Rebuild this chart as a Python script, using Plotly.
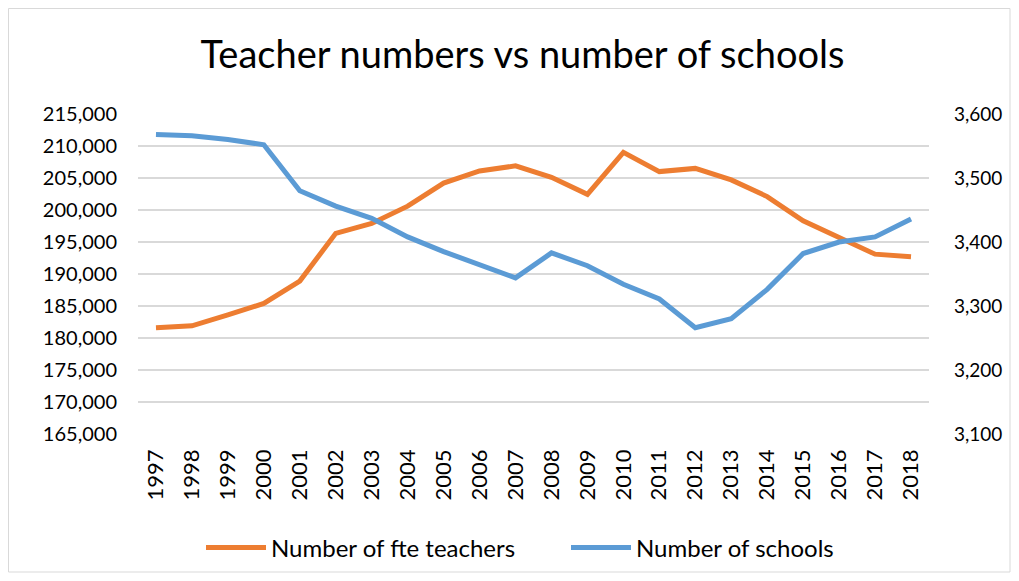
import plotly.graph_objects as go

years = [str(y) for y in range(1997, 2019)]
teachers = [181600, 181900, 183600, 185400, 188900, 196350, 197900, 200600, 204200, 206100, 206900,
            205100, 202450, 209000, 206000, 206500, 204700, 202100, 198300, 195600, 193100, 192700]
schools = [3568, 3566, 3560, 3552, 3480, 3456, 3437, 3408, 3385, 3365, 3344,
           3383, 3363, 3334, 3311, 3266, 3280, 3326, 3382, 3400, 3408, 3436]

left_ticks = list(range(165000, 215001, 5000))
right_ticks = list(range(3100, 3601, 100))

FONT = "Lato"
ORANGE = "#ED7D31"
BLUE = "#5B9BD5"

W, H = 1003, 565
L, T, PW, PH = 130, 106, 791, 320

fig = go.Figure()
fig.add_trace(go.Scatter(x=years, y=teachers, name="Number of fte teachers", mode="lines",
                         line=dict(color=ORANGE, width=5), yaxis="y"))
fig.add_trace(go.Scatter(x=years, y=schools, name="Number of schools", mode="lines",
                         line=dict(color=BLUE, width=5), yaxis="y2"))

fig.update_layout(
    width=W, height=H,
    margin=dict(l=L, r=W - L - PW, t=T, b=H - T - PH, autoexpand=False),
    paper_bgcolor="white", plot_bgcolor="white",
    font=dict(family=FONT, size=20, color="black"),
    title=dict(text="Teacher numbers vs number of schools", x=514.5 / W, xanchor="center",
               y=1 - 46.5 / H, yanchor="middle", font=dict(family=FONT, size=38, color="black")),
    xaxis=dict(type="category", range=[-0.5, 21.5], tickangle=-90, showgrid=False,
               showline=False, ticks="", ticklabelstandoff=10, tickfont=dict(size=22, color="black")),
    yaxis=dict(range=[165000, 215000], tickvals=left_ticks, tickformat=",",
               showgrid=True, gridcolor="#D9D9D9", gridwidth=1.5, zeroline=False,
               showline=False, ticks="", ticklabelstandoff=20, tickfont=dict(size=20, color="black")),
    yaxis2=dict(range=[3100, 3600], tickvals=right_ticks, tickformat=",",
                overlaying="y", side="right", showgrid=False, zeroline=False,
                showline=False, ticks="", ticklabelstandoff=24, tickfont=dict(size=19, color="black")),
    legend=dict(orientation="h", x=(558 - L) / PW, xanchor="center", y=(426 - 540) / PH,
                yanchor="middle", font=dict(size=24, color="black"), itemwidth=60,
                entrywidth=290, entrywidthmode="pixels", bgcolor="rgba(0,0,0,0)"),
    shapes=[dict(type="rect", xref="paper", yref="paper",
                 x0=(0.5 - L) / PW, x1=(1002 - L) / PW, y0=(T + PH - 564) / PH, y1=(T + PH - 0.5) / PH,
                 line=dict(color="#D9D9D9", width=1), layer="below")],
)

fig.write_html("out.html")
